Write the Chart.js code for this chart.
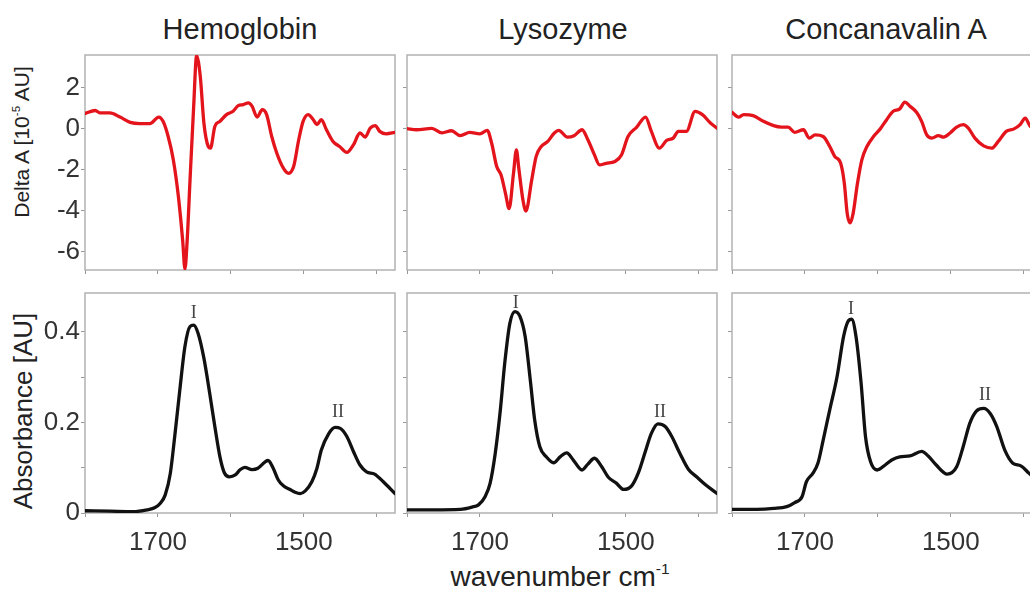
<!DOCTYPE html>
<html>
<head>
<meta charset="utf-8">
<script src="https://cdn.jsdelivr.net/npm/chart.js@4.4.0/dist/chart.umd.min.js"></script>
<style>
  html, body { margin: 0; padding: 0; background: #fff; }
  #wrap { position: relative; width: 1030px; height: 592px; overflow: hidden;
          font-family: 'Liberation Sans', Arial, sans-serif; color: #222; }
  #wrap canvas { position: absolute; }
  .title { position: absolute; top: 15px; font-size: 29px; line-height: 1; white-space: nowrap; transform: translateX(-50%); }
  .ytitle { position: absolute; line-height: 1; white-space: nowrap; transform: translate(-50%, -50%) rotate(-90deg); }
  .xtitle { position: absolute; top: 563px; font-size: 28px; line-height: 1; white-space: nowrap; transform: translateX(-50%); }
  sup { font-size: 0.55em; line-height: 0; vertical-align: 0.75em; }
</style>
</head>
<body>
<div id="wrap">
  <div class="title" style="left:240px">Hemoglobin</div>
  <div class="title" style="left:563px">Lysozyme</div>
  <div class="title" style="left:886px">Concanavalin A</div>
  <div class="ytitle" style="left:21px; top:142px; font-size:21px">Delta A [10<sup>-5</sup> AU]</div>
  <div class="ytitle" style="left:23px; top:411px; font-size:26px">Absorbance [AU]</div>
  <div class="xtitle" style="left:560px">wavenumber cm<sup>-1</sup></div>
</div>
<script>
// axis ticks
const wnTicks = [1800, 1700, 1600, 1500, 1400];
const wnLabelled = [1700, 1500];
const deltaTicks = [-6, -4, -2, 0, 2];
const absTicks = [0, 0.1, 0.2, 0.3, 0.4];
const absLabelled = [0, 0.2, 0.4];

// difference spectra (Delta A, 10^-5 AU)
const hemoDeltaWn = [1800,1786,1779,1766,1752,1738,1725,1711,1699,1693,1686,1679,1672,1666,1663,1660,1656,1651,1647,1642,1637,1631,1628,1622,1615,1606,1597,1590,1583,1576,1571,1564,1557,1551,1544,1537,1528,1521,1514,1507,1501,1494,1487,1482,1476,1469,1460,1451,1441,1432,1423,1416,1409,1402,1396,1387,1375];
const hemoDelta = [0.74,0.89,0.77,0.77,0.57,0.31,0.25,0.25,0.57,0.36,-0.38,-1.5,-3.3,-5.5,-6.85,-5.5,-2.5,1.1,3.56,2.57,0.28,-0.87,-0.95,0.11,0.36,0.69,0.85,1.13,1.18,1.26,1.1,0.57,0.93,0.69,-0.38,-1.2,-1.93,-2.18,-1.85,-0.54,0.36,0.69,0.44,0.2,0.44,-0.05,-0.62,-0.87,-1.16,-0.79,-0.21,-0.41,0.03,0.15,-0.13,-0.25,-0.18];

const lysoDeltaWn = [1800,1787,1766,1752,1739,1727,1714,1700,1690,1684,1677,1671,1665,1660,1654,1650,1647,1641,1637,1629,1623,1616,1607,1598,1592,1580,1571,1560,1552,1543,1536,1527,1515,1506,1497,1485,1473,1465,1454,1444,1435,1428,1417,1405,1395,1384,1375];
const lysoDelta = [0,-0.05,0.02,-0.2,-0.1,-0.34,-0.18,-0.25,-0.08,-0.7,-1.85,-2.26,-3.16,-3.9,-2.18,-1.03,-1.85,-3.49,-4.02,-2.5,-1.36,-0.87,-0.62,-0.21,-0.08,-0.41,-0.34,-0.05,-0.54,-1.28,-1.77,-1.69,-1.6,-1.28,-0.38,0.08,0.57,-0.13,-0.95,-0.57,-0.46,-0.13,-0.13,0.85,0.69,0.28,0.03];

const conaDeltaWn = [1800,1791,1784,1771,1757,1743,1732,1723,1714,1702,1694,1686,1675,1666,1659,1651,1646,1642,1638,1634,1628,1622,1615,1606,1597,1588,1579,1570,1563,1556,1547,1540,1533,1526,1517,1510,1501,1492,1483,1476,1467,1455,1444,1435,1424,1414,1405,1398,1391,1380];
const conaDelta = [0.8,0.57,0.69,0.64,0.36,0.15,0.08,0.08,-0.18,-0.05,-0.46,-0.3,-0.38,-0.87,-1.36,-1.69,-2.67,-4.15,-4.6,-4.15,-2.67,-1.52,-0.87,-0.38,-0.02,0.44,0.85,0.97,1.3,1.1,0.8,0.36,-0.3,-0.46,-0.34,-0.41,-0.21,0.08,0.2,0.03,-0.46,-0.84,-0.95,-0.62,-0.13,-0.02,0.2,0.52,0.11,0.0];

// absorbance spectra (AU)
const hemoAbsWn = [1800,1766,1734,1715,1704,1697,1690,1683,1677,1670,1663,1656,1651,1645,1637,1629,1622,1615,1609,1602,1594,1587,1581,1571,1563,1553,1549,1542,1535,1528,1519,1512,1505,1498,1489,1482,1476,1466,1457,1450,1441,1432,1423,1414,1403,1391,1375];
const hemoAbs = [0.005,0.004,0.003,0.007,0.012,0.021,0.04,0.088,0.169,0.272,0.368,0.412,0.415,0.397,0.342,0.264,0.191,0.124,0.089,0.08,0.084,0.096,0.101,0.096,0.099,0.113,0.116,0.099,0.073,0.06,0.052,0.046,0.043,0.049,0.069,0.099,0.139,0.175,0.189,0.187,0.169,0.136,0.106,0.091,0.086,0.069,0.043];

const lysoAbsWn = [1800,1764,1727,1711,1702,1693,1686,1679,1672,1666,1659,1652,1645,1638,1631,1625,1618,1609,1599,1590,1581,1572,1560,1552,1543,1533,1524,1513,1503,1492,1483,1474,1465,1456,1446,1437,1426,1414,1403,1392,1375];
const lysoAbs = [0.007,0.007,0.008,0.013,0.018,0.036,0.066,0.132,0.228,0.331,0.419,0.445,0.434,0.39,0.294,0.206,0.147,0.124,0.111,0.124,0.133,0.117,0.095,0.108,0.121,0.102,0.079,0.066,0.052,0.06,0.088,0.132,0.176,0.197,0.191,0.169,0.132,0.096,0.08,0.064,0.043];

const conaAbsWn = [1800,1766,1743,1725,1714,1704,1698,1689,1682,1675,1666,1656,1647,1641,1636,1630,1623,1617,1610,1601,1590,1581,1570,1556,1540,1531,1520,1505,1492,1483,1474,1465,1455,1446,1437,1426,1415,1404,1393,1375];
const conaAbs = [0.008,0.008,0.01,0.014,0.023,0.036,0.069,0.088,0.111,0.161,0.228,0.301,0.39,0.423,0.428,0.39,0.287,0.169,0.113,0.095,0.106,0.117,0.124,0.126,0.136,0.126,0.106,0.086,0.102,0.147,0.198,0.225,0.231,0.22,0.191,0.139,0.11,0.104,0.088,0.06];

// amide band labels: [text, wavenumber, absorbance]
const hemoPeaks = [['I', 1651, 0.442], ['II', 1453, 0.222]];
const lysoPeaks = [['I', 1651, 0.464], ['II', 1453, 0.223]];
const conaPeaks = [['I', 1637, 0.451], ['II', 1453, 0.259]];

const COLS = [85, 407, 732];
const PLOT_W = 310;
const ROWS = [{ top: 55, h: 215 }, { top: 293, h: 220 }];
const tickFont = { family: "'Liberation Sans', Arial, sans-serif", size: 26 };

const framePlugin = {
    id: 'frame',
    beforeDatasetsDraw(chart) {
        const { ctx, chartArea: a } = chart;
        ctx.save();
        ctx.strokeStyle = '#b2b2b2';
        ctx.lineWidth = 1.5;
        ctx.strokeRect(a.left, a.top, a.right - a.left, a.bottom - a.top);
        ctx.restore();
    }
};

function peakPlugin(peaks) {
    return {
        id: 'peaks',
        afterDatasetsDraw(chart) {
            const { ctx, scales } = chart;
            ctx.save();
            ctx.fillStyle = '#444';
            ctx.font = "18px 'Liberation Serif', 'DejaVu Serif', serif";
            ctx.textAlign = 'center';
            ctx.textBaseline = 'middle';
            peaks.forEach(([txt, wn, v]) => {
                ctx.fillText(txt, scales.x.getPixelForValue(wn), scales.y.getPixelForValue(v));
            });
            ctx.restore();
        }
    };
}

function zeroPad(s) {
    s.paddingTop = 0; s.paddingBottom = 0; s.paddingLeft = 0; s.paddingRight = 0;
}

const wrap = document.getElementById('wrap');

function panel(col, row, wn, vals, color, peaks) {
    const yw = col === 0 ? 85 : 20;
    const xh = row === 1 ? 50 : 12;
    const pad = 12;
    const r = ROWS[row];
    const w = yw + PLOT_W + pad, h = pad + r.h + xh;
    const cv = document.createElement('canvas');
    cv.width = w; cv.height = h;
    cv.style.left = (COLS[col] - yw) + 'px';
    cv.style.top = (r.top - pad) + 'px';
    cv.style.width = w + 'px'; cv.style.height = h + 'px';
    wrap.appendChild(cv);

    const isAbs = row === 1;
    const yTicks = isAbs ? absTicks : deltaTicks;

    new Chart(cv.getContext('2d'), {
        type: 'line',
        data: {
            datasets: [{
                data: wn.map((x, i) => ({ x, y: vals[i] })),
                borderColor: color,
                borderWidth: 3.3,
                borderJoinStyle: 'round',
                borderCapStyle: 'round',
                pointRadius: 0,
                cubicInterpolationMode: 'monotone',
                fill: false
            }]
        },
        options: {
            responsive: false,
            animation: false,
            devicePixelRatio: 1,
            layout: { padding: { top: pad, right: pad, left: 0, bottom: 0 } },
            plugins: { legend: { display: false }, tooltip: { enabled: false } },
            scales: {
                x: {
                    type: 'linear', reverse: true, min: 1375, max: 1800,
                    afterBuildTicks: s => { s.ticks = wnTicks.map(v => ({ value: v })); },
                    afterFit: s => { s.height = xh; zeroPad(s); },
                    grid: { drawOnChartArea: false, tickLength: 4, color: '#999' },
                    border: { display: false },
                    ticks: {
                        display: isAbs, padding: 10, maxRotation: 0, autoSkip: false,
                        font: tickFont, color: '#333',
                        callback: v => wnLabelled.includes(v) ? String(v) : ''
                    }
                },
                y: {
                    type: 'linear',
                    min: isAbs ? 0 : -6.9,
                    max: isAbs ? 0.486 : 3.6,
                    afterBuildTicks: s => { s.ticks = yTicks.map(v => ({ value: v })); },
                    afterFit: s => { s.width = yw; zeroPad(s); },
                    grid: { drawOnChartArea: false, tickLength: 4, color: '#999' },
                    border: { display: false },
                    ticks: {
                        display: col === 0, padding: 1, autoSkip: false,
                        font: tickFont, color: '#333',
                        callback: v => (!isAbs || absLabelled.includes(v)) ? String(v) : ''
                    }
                }
            }
        },
        plugins: peaks ? [framePlugin, peakPlugin(peaks)] : [framePlugin]
    });
}

panel(0, 0, hemoDeltaWn, hemoDelta, '#e3141b');
panel(1, 0, lysoDeltaWn, lysoDelta, '#e3141b');
panel(2, 0, conaDeltaWn, conaDelta, '#e3141b');
panel(0, 1, hemoAbsWn, hemoAbs, '#111', hemoPeaks);
panel(1, 1, lysoAbsWn, lysoAbs, '#111', lysoPeaks);
panel(2, 1, conaAbsWn, conaAbs, '#111', conaPeaks);
</script>
</body>
</html>
